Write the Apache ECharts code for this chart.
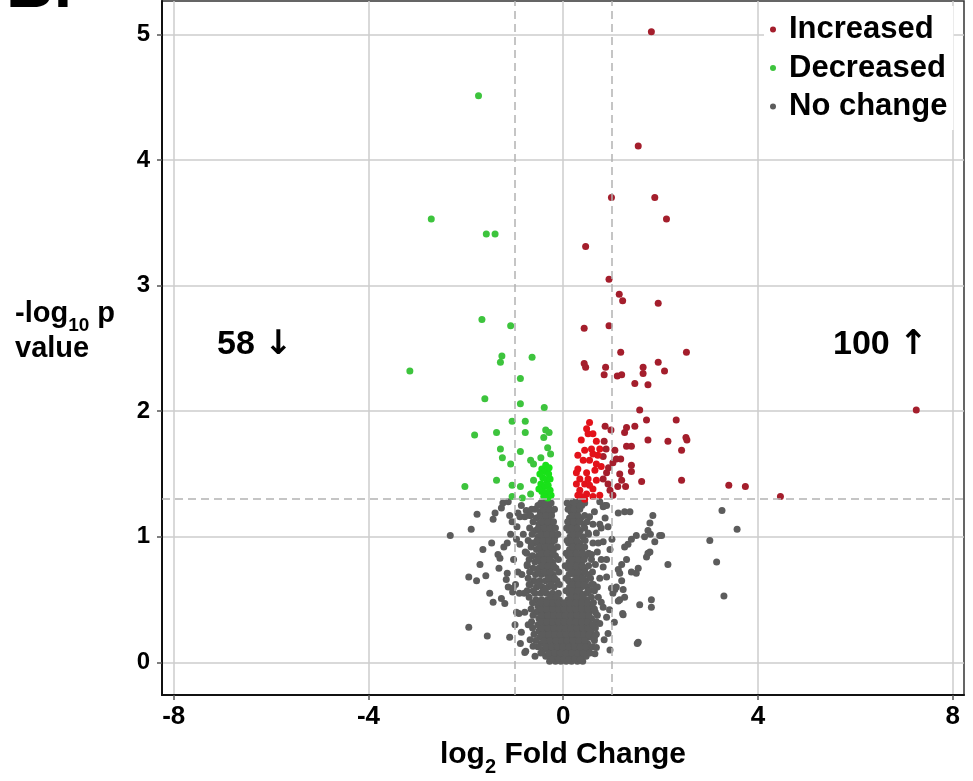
<!DOCTYPE html>
<html><head><meta charset="utf-8">
<script src="https://cdn.jsdelivr.net/npm/echarts@6/dist/echarts.min.js"></script>
<style>html,body{margin:0;padding:0;background:#fff}#c{width:973px;height:781px}</style>
</head><body><div id="c"></div>
<script>
const xTicks = [-8, -4, 0, 4, 8];
const yTicks = [0, 1, 2, 3, 4, 5];
const legendNames = ['Increased', 'Decreased', 'No change'];
const countDown = '58';
const countUp = '100';

const increased = [
[1.81,5.02],[1.54,4.11],[1.88,3.70],[0.99,3.70],[2.12,3.53],[0.46,3.31],[0.94,3.05],[1.15,2.93],[1.22,2.88],[1.95,2.86],
[0.43,2.66],[0.94,2.68],[1.18,2.47],[2.53,2.47],[0.43,2.38],[0.46,2.35],[0.87,2.35],[0.84,2.29],[1.11,2.28],[1.20,2.29],
[1.64,2.35],[1.64,2.30],[1.95,2.39],[2.08,2.32],[1.47,2.22],[1.74,2.21],[7.25,2.01],[1.57,2.01],[1.71,1.93],[2.32,1.93],
[0.98,1.85],[1.30,1.87],[1.47,1.88],[1.26,1.83],[1.74,1.77],[2.15,1.76],[2.52,1.79],[2.54,1.77],[1.30,1.72],[1.40,1.72],
[2.43,1.69],[1.06,1.69],[1.09,1.62],[1.02,1.59],[0.84,1.76],[1.40,1.57],[1.40,1.52],[1.61,1.44],[2.43,1.45],[1.16,1.50],
[1.20,1.45],[0.89,1.51],[0.96,1.37],[3.40,1.41],[3.74,1.40],[4.46,1.32],[0.82,1.64],[0.92,1.42],
[0.54,1.91],[0.48,1.86],[0.51,1.82],[0.68,1.76],[0.44,1.69],[0.61,1.66],[0.71,1.65],[0.54,1.61],[0.41,1.61],[0.30,1.65],
[0.78,1.56],[0.65,1.53],[0.30,1.54],[0.48,1.51],[0.34,1.46],[0.44,1.42],[0.34,1.37],[0.48,1.34],[0.68,1.45],[0.61,1.38],
[0.37,1.32],[0.82,1.46],[0.75,1.33],[0.27,1.51],[0.27,1.42],[0.58,1.70],[0.75,1.70],[0.68,1.58],[0.51,1.46],[0.54,1.41],
[0.44,1.30],[0.30,1.33],[0.61,1.32],[0.37,1.77],[0.61,1.82],
[1.02,1.33],[0.93,1.55],[1.12,1.40],[0.88,1.70],[1.18,1.62],[1.28,1.40],[0.86,1.88]
];

const decreased = [
[-1.74,4.51],[-2.71,3.53],[-1.58,3.41],[-1.40,3.41],[-1.67,2.73],[-1.08,2.68],[-1.26,2.44],[-1.29,2.39],[-0.64,2.43],[-3.15,2.32],
[-0.88,2.26],[-1.61,2.10],[-0.88,2.06],[-0.39,2.03],[-1.05,1.92],[-0.78,1.92],[-1.82,1.81],[-1.37,1.83],[-0.78,1.83],[-0.36,1.85],
[-0.29,1.83],[-0.40,1.79],[-1.29,1.70],[-1.25,1.63],[-0.88,1.68],[-0.32,1.71],[-0.26,1.66],[-0.46,1.63],[-0.67,1.61],[-0.61,1.58],
[-1.08,1.58],[-1.37,1.45],[-2.02,1.40],[-1.05,1.41],[-0.88,1.40],[-0.61,1.45],[-1.05,1.32],[-0.84,1.31],[-0.67,1.34],
[-0.44,1.54],[-0.38,1.52],[-0.30,1.50],[-0.42,1.47],[-0.34,1.45],[-0.27,1.46],[-0.46,1.42],[-0.38,1.40],[-0.31,1.41],[-0.44,1.36],
[-0.35,1.35],[-0.27,1.37],[-0.40,1.32],[-0.32,1.31],[-0.25,1.33],[-0.36,1.57],[-0.48,1.50],[-0.29,1.55],[-0.50,1.38]
];

const noChange = [
[-0.28,0.01],[-0.16,0.01],[-0.05,0.01],[0.06,0.01],[0.17,0.01],[0.29,0.01],[0.40,0.01],
[-0.36,0.05],[-0.24,0.05],[-0.12,0.05],[0.00,0.05],[0.11,0.05],[0.23,0.05],[0.35,0.05],[0.47,0.05],
[-0.42,0.10],[-0.30,0.10],[-0.18,0.10],[-0.06,0.10],[0.05,0.10],[0.17,0.10],[0.29,0.10],[0.41,0.10],[0.52,0.10],
[-0.45,0.15],[-0.33,0.15],[-0.21,0.15],[-0.09,0.15],[0.03,0.15],[0.14,0.15],[0.26,0.15],[0.38,0.15],[0.50,0.15],
[-0.48,0.20],[-0.36,0.20],[-0.24,0.20],[-0.12,0.20],[0.00,0.20],[0.12,0.20],[0.24,0.20],[0.36,0.20],[0.48,0.20],[0.58,0.20],
[-0.50,0.25],[-0.38,0.25],[-0.26,0.25],[-0.14,0.25],[-0.02,0.25],[0.10,0.25],[0.22,0.25],[0.34,0.25],[0.46,0.25],[0.57,0.25],
[-0.52,0.30],[-0.40,0.30],[-0.28,0.30],[-0.16,0.30],[-0.04,0.30],[0.08,0.30],[0.20,0.30],[0.32,0.30],[0.44,0.30],[0.55,0.30],
[-0.50,0.35],[-0.38,0.35],[-0.26,0.35],[-0.14,0.35],[-0.02,0.35],[0.10,0.35],[0.22,0.35],[0.34,0.35],[0.46,0.35],[0.58,0.35],
[-0.55,0.40],[-0.43,0.40],[-0.31,0.40],[-0.19,0.40],[-0.07,0.40],[0.05,0.40],[0.17,0.40],[0.29,0.40],[0.41,0.40],[0.53,0.40],
[-0.52,0.45],[-0.40,0.45],[-0.28,0.45],[-0.16,0.45],[-0.04,0.45],[0.08,0.45],[0.20,0.45],[0.32,0.45],[0.44,0.45],[0.56,0.45],
[-0.56,0.50],[-0.44,0.50],[-0.32,0.50],[-0.20,0.50],[-0.08,0.50],[0.10,0.50],[0.22,0.50],[0.34,0.50],[0.46,0.50],
[-0.58,0.55],[-0.46,0.55],[-0.34,0.55],[-0.22,0.55],[-0.10,0.55],[0.12,0.55],[0.24,0.55],[0.36,0.55],[0.48,0.55],
[-0.55,0.60],[-0.43,0.60],[-0.31,0.60],[-0.19,0.60],[0.13,0.60],[0.25,0.60],[0.37,0.60],[0.49,0.60],
[-0.60,0.65],[-0.48,0.65],[-0.36,0.65],[-0.24,0.65],[-0.13,0.65],[0.11,0.65],[0.22,0.65],[0.34,0.65],[0.46,0.65],
[-0.57,0.70],[-0.45,0.70],[-0.33,0.70],[-0.21,0.70],[0.12,0.70],[0.24,0.70],[0.36,0.70],[0.50,0.70],
[-0.62,0.75],[-0.50,0.75],[-0.38,0.75],[-0.26,0.75],[-0.15,0.75],[0.10,0.75],[0.21,0.75],[0.33,0.75],[0.45,0.75],
[-0.58,0.80],[-0.46,0.80],[-0.34,0.80],[-0.22,0.80],[0.12,0.80],[0.24,0.80],[0.37,0.80],
[-0.63,0.85],[-0.51,0.85],[-0.39,0.85],[-0.27,0.85],[-0.16,0.85],[0.10,0.85],[0.21,0.85],[0.33,0.85],[0.46,0.85],
[-0.55,0.90],[-0.43,0.90],[-0.31,0.90],[-0.20,0.90],[0.13,0.90],[0.25,0.90],[0.38,0.90],
[-0.60,0.95],[-0.48,0.95],[-0.36,0.95],[-0.24,0.95],[0.11,0.95],[0.22,0.95],[0.34,0.95],
[-0.52,1.00],[-0.40,1.00],[-0.28,1.00],[-0.17,1.00],[0.14,1.00],[0.26,1.00],[0.40,1.00],
[-0.57,1.05],[-0.45,1.05],[-0.33,1.05],[-0.22,1.05],[0.12,1.05],[0.23,1.05],[0.35,1.05],
[-0.50,1.10],[-0.38,1.10],[-0.26,1.10],[0.15,1.10],[0.27,1.10],[0.42,1.10],
[-0.55,1.15],[-0.42,1.15],[-0.30,1.15],[0.13,1.15],[0.24,1.15],[0.36,1.15],
[-0.47,1.20],[-0.35,1.20],[-0.24,1.20],[0.16,1.20],[0.28,1.20],
[-0.52,1.25],[-0.40,1.25],[-0.30,1.25],[0.14,1.25],[0.25,1.25],[0.38,1.25],
[-0.36,1.28],[0.20,1.28],[0.32,1.28],
[-0.70,0.52],[-0.26,0.52],[-0.14,0.52],[0.16,0.52],[0.28,0.52],[0.40,0.52],[0.58,0.52],
[-0.74,0.57],[-0.62,0.57],[-0.40,0.57],[0.06,0.57],[0.18,0.57],[0.30,0.57],[0.54,0.57],[0.64,0.57],
[-0.68,0.62],[-0.49,0.62],[-0.25,0.62],[-0.08,0.62],[0.19,0.62],[0.31,0.62],[0.43,0.62],[0.58,0.62],
[-0.72,0.67],[-0.30,0.67],[-0.18,0.67],[0.06,0.67],[0.28,0.67],[0.40,0.67],[0.56,0.67],
[-0.69,0.72],[-0.51,0.72],[-0.39,0.72],[-0.27,0.72],[-0.09,0.72],[0.18,0.72],[0.30,0.72],[0.44,0.72],[0.60,0.72],
[-0.74,0.77],[-0.44,0.77],[-0.32,0.77],[-0.20,0.77],[0.04,0.77],[0.16,0.77],[0.27,0.77],[0.39,0.77],[0.52,0.77],
[-0.70,0.82],[-0.52,0.82],[-0.40,0.82],[-0.28,0.82],[-0.10,0.82],[0.18,0.82],[0.30,0.82],[0.43,0.82],[0.58,0.82],
[-0.75,0.87],[-0.45,0.87],[-0.33,0.87],[-0.21,0.87],[0.06,0.87],[0.15,0.87],[0.27,0.87],[0.40,0.87],[0.52,0.87],
[-0.66,0.92],[-0.49,0.92],[-0.37,0.92],[-0.25,0.92],[-0.12,0.92],[0.19,0.92],[0.31,0.92],[0.44,0.92],
[-0.72,0.97],[-0.54,0.97],[-0.42,0.97],[-0.30,0.97],[-0.18,0.97],[0.08,0.97],[0.17,0.97],[0.28,0.97],[0.45,0.97],
[-0.64,1.02],[-0.46,1.02],[-0.34,1.02],[-0.22,1.02],[-0.11,1.02],[0.20,1.02],[0.32,1.02],[0.52,1.02],
[-0.69,1.07],[-0.51,1.07],[-0.39,1.07],[-0.27,1.07],[-0.16,1.07],[0.07,1.07],[0.18,1.07],[0.29,1.07],[0.44,1.07],
[-0.62,1.12],[-0.44,1.12],[-0.32,1.12],[-0.20,1.12],[0.09,1.12],[0.21,1.12],[0.33,1.12],[0.49,1.12],
[-0.67,1.17],[-0.48,1.17],[-0.36,1.17],[-0.24,1.17],[0.19,1.17],[0.30,1.17],[0.44,1.17],
[-0.58,1.22],[-0.41,1.22],[-0.29,1.22],[-0.18,1.22],[0.10,1.22],[0.22,1.22],[0.34,1.22],
[-0.46,1.27],[-0.25,1.27],[0.08,1.27],[0.29,1.27],
[-0.22,0.03],[-0.10,0.03],[0.01,0.03],[0.12,0.03],[0.23,0.03],[0.35,0.03],
[-0.46,0.075],[-0.30,0.075],[-0.18,0.075],[-0.06,0.075],[0.06,0.075],[0.17,0.075],[0.29,0.075],[0.41,0.075],[0.55,0.075],
[-0.52,0.125],[-0.36,0.125],[-0.24,0.125],[-0.12,0.125],[-0.01,0.125],[0.11,0.125],[0.23,0.125],[0.35,0.125],[0.46,0.125],[0.60,0.125],
[-0.56,0.175],[-0.39,0.175],[-0.27,0.175],[-0.15,0.175],[-0.03,0.175],[0.08,0.175],[0.20,0.175],[0.32,0.175],[0.44,0.175],[0.64,0.175],
[-0.60,0.225],[-0.42,0.225],[-0.30,0.225],[-0.18,0.225],[-0.06,0.225],[0.06,0.225],[0.18,0.225],[0.30,0.225],[0.42,0.225],[0.53,0.225],[0.68,0.225],
[-0.63,0.275],[-0.44,0.275],[-0.32,0.275],[-0.20,0.275],[-0.08,0.275],[0.04,0.275],[0.16,0.275],[0.28,0.275],[0.40,0.275],[0.51,0.275],[0.66,0.275],
[-0.65,0.325],[-0.46,0.325],[-0.34,0.325],[-0.22,0.325],[-0.10,0.325],[0.02,0.325],[0.14,0.325],[0.26,0.325],[0.38,0.325],[0.50,0.325],[0.68,0.325],
[-0.62,0.375],[-0.44,0.375],[-0.32,0.375],[-0.20,0.375],[-0.08,0.375],[0.04,0.375],[0.16,0.375],[0.28,0.375],[0.40,0.375],[0.52,0.375],[0.70,0.375],
[-0.66,0.425],[-0.46,0.425],[-0.34,0.425],[-0.22,0.425],[-0.10,0.425],[0.02,0.425],[0.14,0.425],[0.26,0.425],[0.38,0.425],[0.50,0.425],[0.64,0.425],
[-0.63,0.475],[-0.46,0.475],[-0.34,0.475],[-0.22,0.475],[-0.10,0.475],[0.02,0.475],[0.14,0.475],[0.26,0.475],[0.38,0.475],[0.50,0.475],[0.62,0.475],
[-2.32,1.01],[-1.89,1.06],[-1.77,1.18],[-1.44,1.14],[-1.40,1.19],[-1.27,1.23],[-1.24,1.27],[-1.13,1.28],[-1.10,1.17],[-0.93,1.19],
[-0.89,1.16],[-0.76,1.21],[-0.69,1.17],[-0.79,1.16],[-0.95,1.08],[-1.47,0.95],[-1.65,0.90],[-1.34,0.86],[-1.30,0.83],[-1.15,0.95],
[-0.89,0.94],[-1.71,0.78],[-1.32,0.75],[-1.15,0.71],[-1.17,0.66],[-1.59,0.69],[-1.94,0.68],[-1.78,0.65],[-1.13,0.60],[-1.03,0.59],
[-1.04,0.56],[-1.51,0.55],[-1.44,0.48],[-1.27,0.51],[-1.20,0.47],[-0.91,0.39],[-0.79,0.40],[-1.94,0.28],[-1.56,0.21],[-0.86,0.24],
[-0.77,0.09],[-0.65,1.22],[-0.37,1.26],[-0.96,0.40],[-0.79,0.08],
[-0.82,1.02],[-0.78,0.88],[-0.85,0.70],[-0.80,0.55],[-0.72,0.30],[-0.68,0.18],[-0.70,0.62],[-0.74,0.78],[-0.66,0.95],[-0.62,0.13],[-0.58,0.05],
[-0.98,0.62],[-1.02,0.82],[-0.93,0.72],[-1.08,1.02],[-0.99,0.30],[-1.10,0.20],[-0.90,0.55],[-0.88,0.15],[-1.22,0.92],[-1.05,1.12],[-0.86,1.25],[-0.96,0.98],
[0.24,1.27],[0.44,1.27],[0.75,1.28],[0.82,1.24],[0.89,1.25],[1.13,1.19],[1.26,1.20],[1.37,1.20],[1.84,1.17],[1.78,1.11],
[1.74,1.05],[1.67,1.00],[1.79,1.02],[1.98,1.01],[2.02,1.01],[1.88,0.96],[1.50,1.01],[1.40,0.98],[1.33,0.94],[1.26,0.92],
[1.78,0.88],[1.71,0.84],[1.74,0.87],[2.15,0.78],[1.30,0.82],[1.20,0.78],[1.13,0.74],[1.16,0.71],[1.54,0.75],[1.50,0.71],
[1.40,0.72],[0.61,0.95],[0.82,0.96],[0.58,0.86],[0.78,0.82],[0.89,0.82],[0.96,0.90],[0.99,0.59],[1.06,0.58],[1.23,0.58],
[1.26,0.52],[1.16,0.50],[1.57,0.46],[1.81,0.50],[1.81,0.44],[1.23,0.38],[0.92,0.23],[1.54,0.16],[0.96,0.10],[0.65,0.07],
[0.75,1.10],[0.78,1.07],[0.68,1.03],[0.54,1.16],[0.61,1.10],[0.51,1.03],[0.82,0.76],[0.75,0.67],[0.89,0.68],[0.72,0.52],
[0.82,0.44],[0.89,0.36],[0.75,0.31],[1.20,0.65],[1.09,0.60],[1.02,0.55],[1.13,0.49],[1.22,0.39],[1.52,0.15],[0.34,1.25],
[0.85,1.25],[3.26,1.21],[3.57,1.06],[3.01,0.97],[3.15,0.80],[3.30,0.53],[0.62,0.62],[0.66,0.40],[0.64,0.20],[0.60,0.30],[0.70,0.88],
[0.72,0.95],[0.66,0.78],[0.70,0.60],[0.78,0.48],[0.68,0.12],[0.84,0.18],[0.95,0.42],[1.05,0.32],[0.92,1.08],[1.00,0.98],[0.86,1.15],[0.64,1.20]
];

const FONT = '"Liberation Sans", Arial, sans-serif';
const C_UP = '#a41e2c', C_UP2 = '#e3121a';
const C_DN = '#3dc43d', C_DN2 = '#19e119';
const C_NC = '#5c5c5c';
const legendColors = [C_UP, C_DN, C_NC];

const chart = echarts.init(document.getElementById('c'), null, {renderer: 'canvas'});
chart.setOption({
  animation: false,
  backgroundColor: '#fff',
  grid: {left: 162, right: 9, top: 1, bottom: 86, show: true, borderColor: '#333', borderWidth: 1.5},
  xAxis: {
    type: 'value', min: -8.24, max: 8.23,
    axisLine: {show: true, onZero: false, lineStyle: {color: '#111', width: 2}},
    axisTick: {show: true, customValues: xTicks, length: 5, lineStyle: {color: '#555', width: 1.5}},
    axisLabel: {customValues: xTicks, fontSize: 26, fontWeight: 'bold', color: '#000', margin: 9, fontFamily: FONT},
    splitLine: {show: true, lineStyle: {color: '#cdcdcd', width: 1.5}}
  },
  yAxis: {
    type: 'value', min: -0.259, max: 5.265,
    axisLine: {show: true, onZero: false, lineStyle: {color: '#111', width: 2}},
    axisTick: {show: true, customValues: yTicks, length: 5, lineStyle: {color: '#555', width: 1.5}},
    axisLabel: {customValues: yTicks, fontSize: 24, fontWeight: 'bold', color: '#000', margin: 12, fontFamily: FONT},
    splitLine: {show: true, lineStyle: {color: '#cdcdcd', width: 1.5}}
  },
  legend: {
    data: legendNames.map((n, i) => ({name: n, itemStyle: {color: legendColors[i], opacity: 1}})),
    orient: 'vertical', left: 764, top: 6,
    backgroundColor: '#fff', padding: [8, 6, 8, 6],
    icon: 'circle', itemWidth: 6, itemHeight: 6, itemGap: 7.5,
    textStyle: {fontSize: 31, fontWeight: 'bold', color: '#000', fontFamily: FONT, lineHeight: 31, padding: [0, 0, 0, 8]}
  },
  series: [
    {
      name: legendNames[2], type: 'scatter', data: noChange, symbolSize: 7,
      itemStyle: {color: C_NC, opacity: 1},
      markLine: {
        silent: true, symbol: 'none', label: {show: false},
        lineStyle: {type: [8, 5], color: '#b3b3b3', width: 1.5},
        data: [{xAxis: -1}, {xAxis: 1}, {yAxis: 1.301}]
      }
    },
    {
      name: legendNames[1], type: 'scatter', data: decreased, symbolSize: 7,
      itemStyle: {opacity: 1, color: p => (p.value[0] > -0.52 && p.value[1] < 1.6) ? C_DN2 : C_DN}
    },
    {
      name: legendNames[0], type: 'scatter', data: increased, symbolSize: 7,
      itemStyle: {opacity: 1, color: p => (p.value[0] < 0.8 && p.value[1] < 2) ? C_UP2 : C_UP}
    }
  ],
  graphic: [
    {type: 'text', left: 6, top: -44, style: {text: 'B.', font: 'bold 66px ' + FONT, fill: '#000'}},
    {type: 'text', x: 15, y: 296, style: {
      text: '{a|-log}{s|10}{a| p}\n{a|value}', fill: '#000', verticalAlign: 'top',
      rich: {
        a: {fontSize: 29, fontWeight: 'bold', fontFamily: FONT, lineHeight: 35, verticalAlign: 'middle'},
        s: {fontSize: 19, fontWeight: 'bold', fontFamily: FONT, lineHeight: 35, verticalAlign: 'bottom', padding: [0, 0, -4, 0]}
      }
    }},
    {type: 'text', x: 563, y: 755, style: {
      text: '{a|log}{s|2}{a| Fold Change}', fill: '#000', align: 'center', verticalAlign: 'middle',
      rich: {
        a: {fontSize: 30, fontWeight: 'bold', fontFamily: FONT, lineHeight: 36, verticalAlign: 'middle'},
        s: {fontSize: 20, fontWeight: 'bold', fontFamily: FONT, lineHeight: 36, verticalAlign: 'bottom', padding: [0, 0, -4, 0]}
      }
    }},
    {type: 'text', x: 217, y: 345, style: {
      text: '{n|' + countDown + ' }{r|\u2193}', fill: '#000', verticalAlign: 'middle',
      rich: {
        n: {fontSize: 34, fontWeight: 'bold', fontFamily: FONT, lineHeight: 40},
        r: {fontSize: 34, fontWeight: 'bold', fontFamily: '"DejaVu Sans"', lineHeight: 40}
      }
    }},
    {type: 'text', x: 833, y: 345, style: {
      text: '{n|' + countUp + ' }{r|\u2191}', fill: '#000', verticalAlign: 'middle',
      rich: {
        n: {fontSize: 34, fontWeight: 'bold', fontFamily: FONT, lineHeight: 40},
        r: {fontSize: 34, fontWeight: 'bold', fontFamily: '"DejaVu Sans"', lineHeight: 40}
      }
    }}
  ]
});
</script></body></html>
